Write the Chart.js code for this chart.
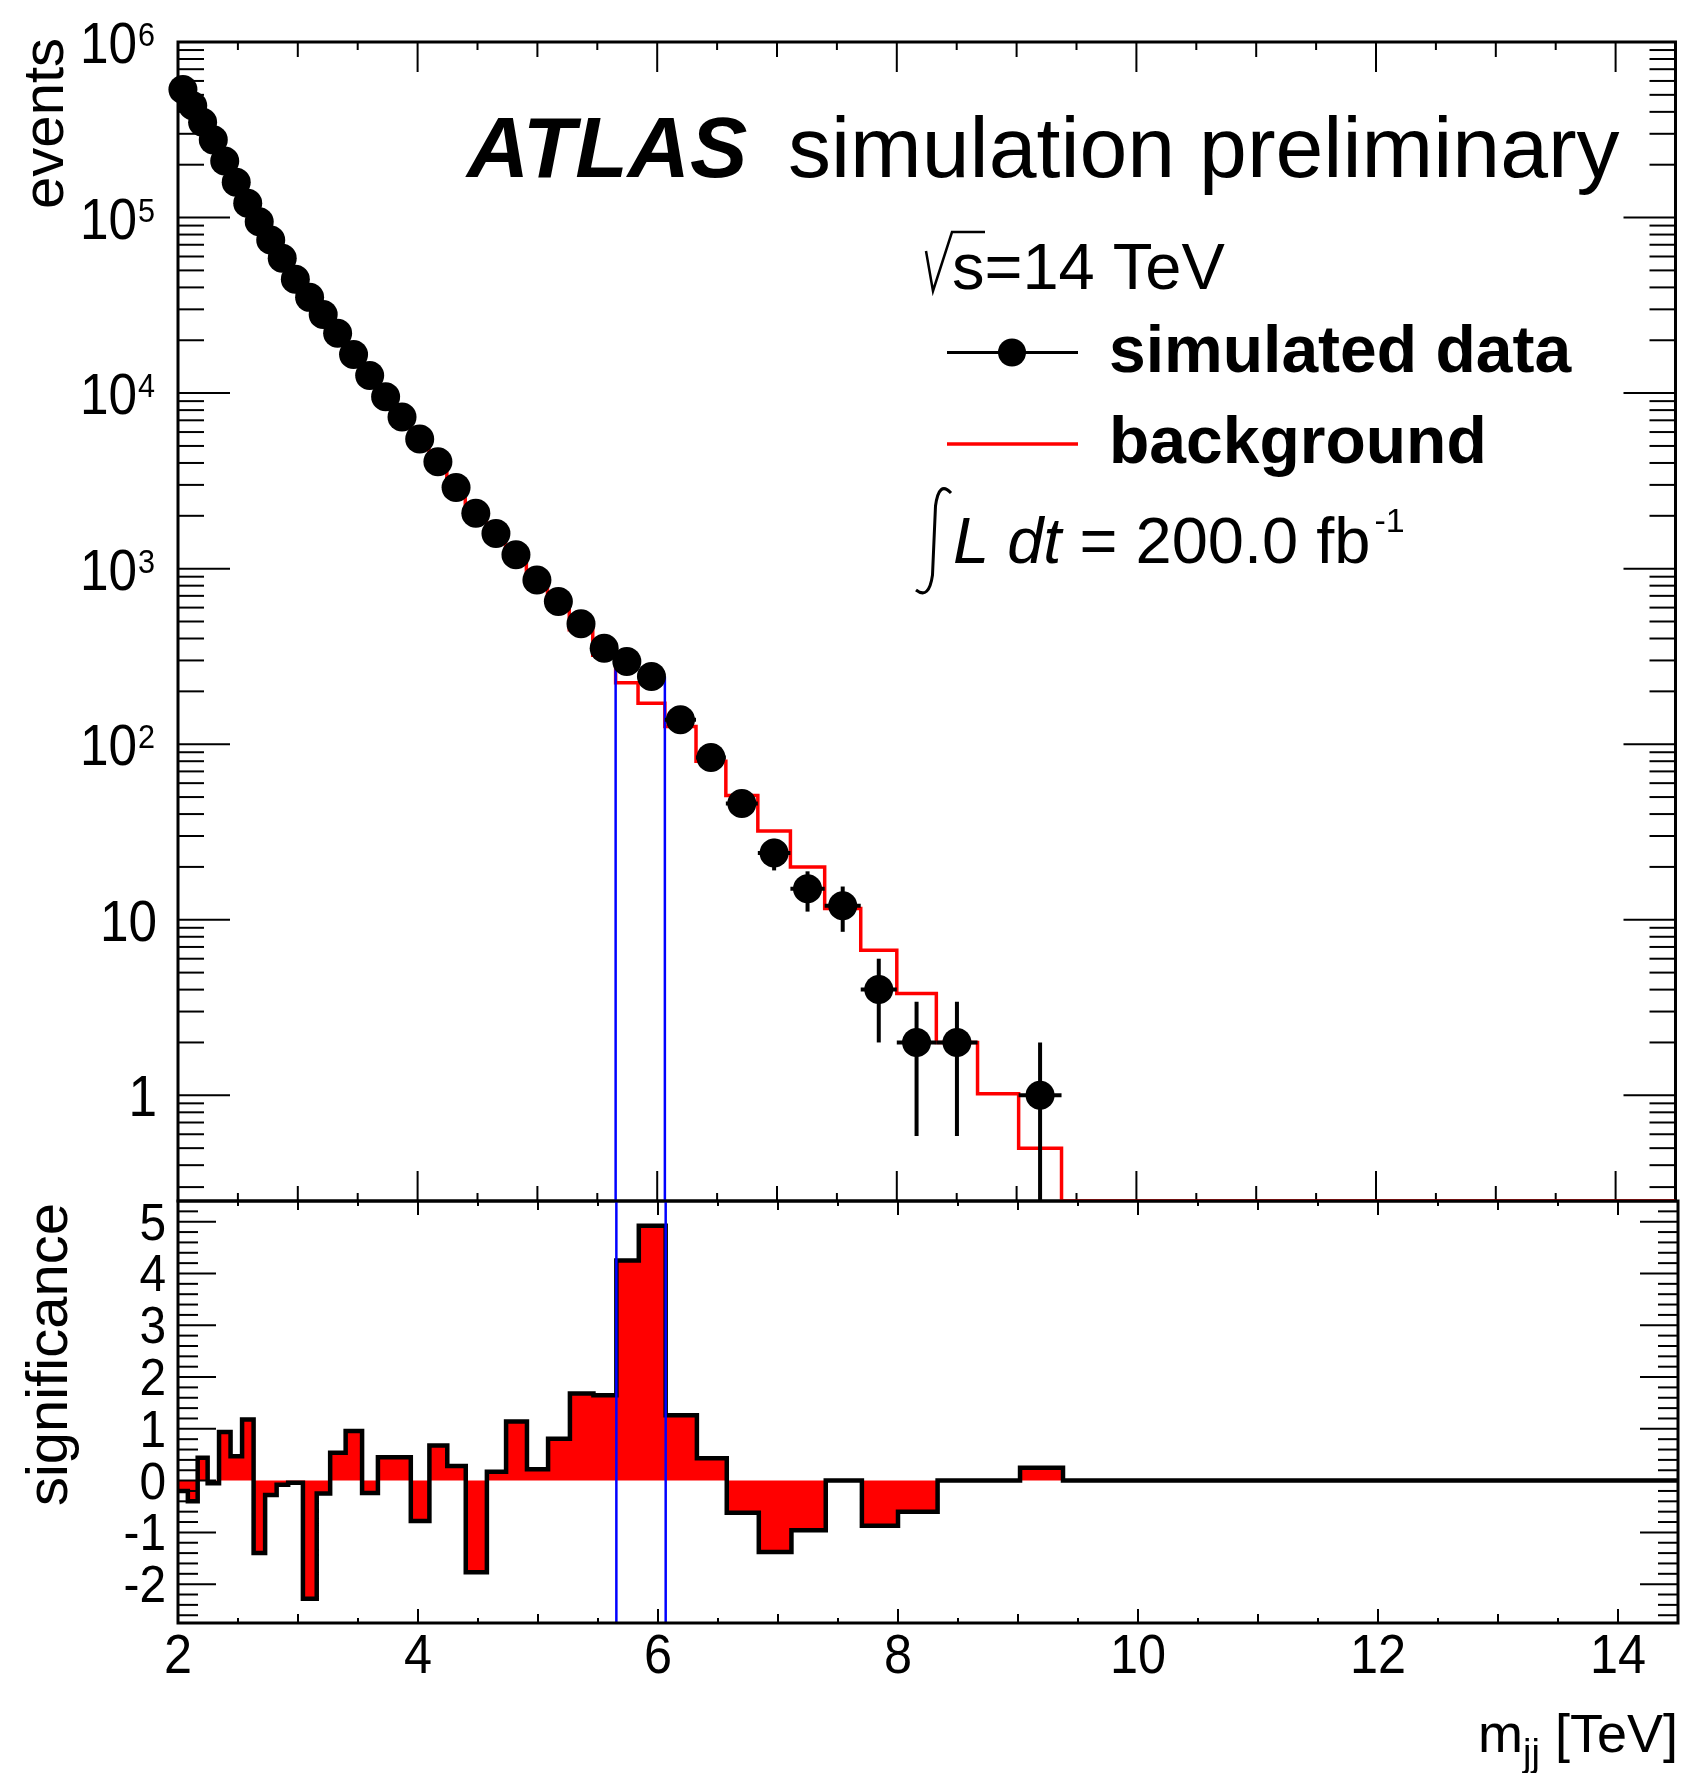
<!DOCTYPE html>
<html>
<head>
<meta charset="utf-8">
<title>mjj spectrum</title>
<script src="https://cdn.jsdelivr.net/npm/chart.js@4.4.0/dist/chart.umd.min.js"></script>
<style>
  body { margin: 0; background: #fff; }
  #wrap { position: relative; width: 1690px; height: 1773px; }
  #wrap canvas { position: absolute; left: 0; top: 0; }
</style>
</head>
<body>
<div id="wrap">
  <canvas id="upper" width="1690" height="1773"></canvas>
  <canvas id="lower" width="1690" height="1773"></canvas>
</div>
<script>
// dijet mass bins [TeV]
var binEdges = [2.0, 2.082, 2.164, 2.247, 2.342, 2.438, 2.534, 2.630, 2.726, 2.822, 2.918,
  3.041, 3.156, 3.268, 3.397, 3.534, 3.666, 3.800, 3.940, 4.095, 4.244, 4.398, 4.574,
  4.734, 4.908, 5.084, 5.266, 5.462, 5.653, 5.840, 6.064, 6.324, 6.573, 6.840, 7.112,
  7.398, 7.699, 8.000, 8.330, 8.674, 9.017, 9.375, 14.5];

// simulated data, events per bin
var dataCounts = [537000, 434000, 349000, 277000, 210000, 159000, 120500, 94600, 74500, 58600,
  44500, 35100, 28000, 21900, 16600, 12600, 9520, 7300, 5470, 4070,
  2900, 2070, 1585, 1200, 863, 650, 485, 352, 296, 243,
  138, 84, 46, 24, 15, 12, 4, 2, 2, 0, 1, 0];

// background expectation per bin
var bgCounts = [537100, 434300, 348700, 277000, 209600, 158800, 120100, 95000, 74600, 58600,
  44500, 35500, 28000, 21800, 16500, 12600, 9480, 7260, 5530, 4030,
  2890, 2150, 1580, 1160, 857, 630, 448, 321, 224, 171,
  126, 80, 51, 32, 20, 11.6, 6.7, 3.8, 2.0, 1.02, 0.5, 0];

// bin-by-bin significance
var significance = [-0.20, -0.40, 0.44, -0.05, 0.94, 0.47, 1.18, -1.40, -0.28, -0.08,
  -0.04, -2.28, -0.25, 0.54, 0.96, -0.24, 0.45, 0.45, -0.78, 0.68,
  0.28, -1.77, 0.17, 1.14, 0.22, 0.81, 1.68, 1.65, 4.25, 4.92,
  1.26, 0.43, -0.62, -1.38, -0.96, 0, -0.87, -0.60, 0, 0, 0.25, 0];

// signal window
var windowEdges = [5.653, 6.064];
var windowTop = [296, 243];

// axis ranges and tick labels
var xRange = [2, 14.5];
var eventsRange = [0.25, 1e6];
var sigRange = [-2.75, 5.4];
var xTickLabels = [2, 4, 6, 8, 10, 12, 14];
var eventTicks = [1e6, 1e5, 1e4, 1e3, 1e2, 10, 1];
var eventTickLabels = [['10', '6'], ['10', '5'], ['10', '4'], ['10', '3'], ['10', '2'], ['10', ''], ['1', '']];
var sigTicks = [5, 4, 3, 2, 1, 0, -1, -2];

var FONT = '"Liberation Sans", Arial, Helvetica, sans-serif';

function stepPoints(values, floor) {
  var pts = [];
  for (var i = 0; i < values.length; i++) {
    pts.push({ x: binEdges[i], y: floor === undefined ? values[i] : Math.max(values[i], floor) });
  }
  var last = pts[pts.length - 1].y;
  pts.push({ x: binEdges[values.length], y: last });
  return pts;
}

var dataPoints = [];
for (var i = 0; i < dataCounts.length; i++) {
  if (dataCounts[i] > 0) {
    dataPoints.push({ x: (binEdges[i] + binEdges[i + 1]) / 2, y: dataCounts[i], lo: binEdges[i], hi: binEdges[i + 1] });
  }
}

function seg(ctx, x1, y1, x2, y2) {
  ctx.beginPath();
  ctx.moveTo(x1, y1);
  ctx.lineTo(x2, y2);
  ctx.stroke();
}

function txt(ctx, s, x, y, size, opts) {
  opts = opts || {};
  ctx.save();
  ctx.font = (opts.style || '') + ' ' + size + 'px ' + FONT;
  ctx.fillStyle = '#000';
  ctx.textAlign = opts.align || 'left';
  ctx.textBaseline = 'alphabetic';
  ctx.translate(x, y);
  if (opts.rotate) ctx.rotate(opts.rotate);
  ctx.scale(opts.sx || 1, 1);
  ctx.fillText(s, 0, 0);
  var w = ctx.measureText(s).width * (opts.sx || 1);
  ctx.restore();
  return w;
}

function xTicks(ctx, xs, y, dir, lens) {
  for (var v = xRange[0]; v <= xRange[1] + 1e-9; v += 0.5) {
    var len = v % 2 === 0 ? lens[0] : (v % 1 === 0 ? lens[1] : lens[2]);
    var px = xs.getPixelForValue(v);
    seg(ctx, px, y, px, y + dir * len);
  }
}

var upperDeco = {
  id: 'upperDeco',
  beforeDatasetsDraw: function (chart) {
    var ctx = chart.ctx, a = chart.chartArea, xs = chart.scales.x, ys = chart.scales.y;
    ctx.save();
    ctx.strokeStyle = '#000';
    ctx.lineWidth = 3;
    ctx.strokeRect(a.left, a.top, a.right - a.left, a.bottom - a.top);
    ctx.lineWidth = 2;
    xTicks(ctx, xs, a.top, 1, [30, 15, 8]);
    xTicks(ctx, xs, a.bottom, -1, [30, 15, 8]);
    for (var d = -1; d <= 6; d++) {
      for (var m = 1; m <= 9; m++) {
        var val = m * Math.pow(10, d);
        if (val < eventsRange[0] || val > eventsRange[1]) continue;
        var py = ys.getPixelForValue(val);
        var len = m === 1 ? 52 : 26;
        seg(ctx, a.left, py, a.left + len, py);
        seg(ctx, a.right, py, a.right - len, py);
      }
    }
    ctx.restore();
  },
  afterDatasetsDraw: function (chart) {
    var ctx = chart.ctx, a = chart.chartArea, xs = chart.scales.x, ys = chart.scales.y;
    ctx.save();
    ctx.strokeStyle = '#000';
    ctx.lineWidth = 4;
    // statistical error bars on the data points
    dataPoints.forEach(function (p) {
      var err = Math.sqrt(p.y);
      var yc = ys.getPixelForValue(p.y);
      var yUp = ys.getPixelForValue(p.y + err);
      var yDn = p.y - err > eventsRange[0] ? ys.getPixelForValue(p.y - err) : a.bottom;
      var xc = xs.getPixelForValue(p.x);
      seg(ctx, xc, yUp, xc, yDn);
      seg(ctx, xs.getPixelForValue(p.lo), yc, xs.getPixelForValue(p.hi), yc);
    });
    ctx.restore();
  },
  afterDraw: function (chart) {
    var ctx = chart.ctx, ys = chart.scales.y;
    // y tick labels, right edge of the whole label at x = 157
    eventTicks.forEach(function (v, i) {
      var py = ys.getPixelForValue(v);
      var lab = eventTickLabels[i];
      if (lab[1]) {
        txt(ctx, lab[0], 137, py + 21, 57, { align: 'right', sx: 0.9 });
        txt(ctx, lab[1], 138, py + 4, 34, { sx: 0.9 });
      } else {
        txt(ctx, lab[0], 157, py + 21, 57, { align: 'right', sx: 0.9 });
      }
    });
    txt(ctx, 'events', 63, 38, 58, { align: 'right', rotate: -Math.PI / 2 });

    // header
    txt(ctx, 'ATLAS', 467, 177, 86, { style: 'italic bold' });
    txt(ctx, 'simulation preliminary', 788, 177, 86, {});

    // sqrt(s)
    ctx.save();
    ctx.strokeStyle = '#000';
    ctx.lineWidth = 2.5;
    ctx.beginPath();
    ctx.moveTo(926, 251);
    ctx.lineTo(933, 291);
    ctx.lineTo(952, 232);
    ctx.lineTo(985, 232);
    ctx.stroke();
    ctx.restore();
    txt(ctx, 's=14 TeV', 952, 289, 65, {});

    // legend
    ctx.save();
    ctx.strokeStyle = '#000';
    ctx.lineWidth = 3;
    seg(ctx, 947, 352.5, 1078, 352.5);
    ctx.fillStyle = '#000';
    ctx.beginPath();
    ctx.arc(1012, 352.5, 14, 0, Math.PI * 2);
    ctx.fill();
    ctx.strokeStyle = '#ff0000';
    ctx.lineWidth = 3.5;
    seg(ctx, 947, 444, 1078, 444);
    ctx.restore();
    txt(ctx, 'simulated data', 1109, 372, 66, { style: 'bold' });
    txt(ctx, 'background', 1109, 463, 66, { style: 'bold' });

    // integrated luminosity
    ctx.save();
    ctx.strokeStyle = '#000';
    ctx.lineWidth = 3;
    ctx.beginPath();
    ctx.moveTo(951, 493);
    ctx.quadraticCurveTo(939, 480, 935.5, 506);
    ctx.lineTo(932.5, 575);
    ctx.quadraticCurveTo(929, 600, 916, 590);
    ctx.stroke();
    ctx.restore();
    var x = 953;
    x += txt(ctx, 'L dt', x, 563, 65, { style: 'italic' });
    x += txt(ctx, ' = 200.0 fb', x, 563, 65, {});
    txt(ctx, '-1', x + 4, 532, 34, {});
  }
};

var lowerDeco = {
  id: 'lowerDeco',
  afterDatasetsDraw: function (chart) {
    var ctx = chart.ctx, a = chart.chartArea, xs = chart.scales.x, ys = chart.scales.y;
    ctx.save();
    ctx.strokeStyle = '#000';
    ctx.lineWidth = 3;
    ctx.strokeRect(a.left, a.top, a.right - a.left, a.bottom - a.top);
    ctx.lineWidth = 2;
    xTicks(ctx, xs, a.bottom, -1, [14, 9, 5]);
    xTicks(ctx, xs, a.top, 1, [14, 9, 5]);
    for (var k = -14; k <= 27; k++) {
      var v = k / 5;
      if (v < sigRange[0] || v > sigRange[1]) continue;
      var py = ys.getPixelForValue(v);
      var len = k % 5 === 0 ? 38 : 20;
      seg(ctx, a.left, py, a.left + len, py);
      seg(ctx, a.right, py, a.right - len, py);
    }
    ctx.restore();

    sigTicks.forEach(function (v) {
      txt(ctx, String(v), 166, ys.getPixelForValue(v) + 18, 52, { align: 'right', sx: 0.92 });
    });
    xTickLabels.forEach(function (v) {
      txt(ctx, String(v), xs.getPixelForValue(v), 1673, 56, { align: 'center', sx: 0.9 });
    });
    txt(ctx, 'significance', 67, 1203, 58, { align: 'right', rotate: -Math.PI / 2 });

    // axis title m_jj [TeV], right-aligned to the frame
    ctx.save();
    ctx.font = '54px ' + FONT;
    var wM = ctx.measureText('m').width;
    var wT = ctx.measureText(' [TeV]').width;
    ctx.font = '38px ' + FONT;
    var wJ = ctx.measureText('jj').width;
    ctx.restore();
    var x0 = a.right - wM - wJ - wT;
    txt(ctx, 'm', x0, 1752, 54, {});
    txt(ctx, 'jj', x0 + wM, 1766, 38, {});
    txt(ctx, ' [TeV]', x0 + wM + wJ, 1752, 54, {});
  }
};

function fixedAxes(yType, yMin, yMax) {
  return {
    x: {
      type: 'linear', min: xRange[0], max: xRange[1],
      ticks: { display: false }, grid: { display: false }, border: { display: false },
      afterFit: function (s) { s.height = 0; }
    },
    y: {
      type: yType, min: yMin, max: yMax,
      ticks: { display: false }, grid: { display: false }, border: { display: false },
      afterFit: function (s) { s.width = 178; }
    }
  };
}

var baseOpts = {
  responsive: false,
  animation: false,
  events: [],
  plugins: { legend: { display: false }, tooltip: { enabled: false } }
};

new Chart(document.getElementById('upper'), {
  type: 'scatter',
  data: {
    datasets: [
      {
        type: 'line', label: 'background',
        data: stepPoints(bgCounts, eventsRange[0]),
        stepped: true, borderColor: '#ff0000', borderWidth: 3.5,
        pointRadius: 0, fill: false, order: 3
      },
      {
        type: 'line', label: 'window low',
        data: [{ x: windowEdges[0], y: eventsRange[0] }, { x: windowEdges[0], y: windowTop[0] }],
        borderColor: '#0000ff', borderWidth: 2.5, pointRadius: 0, fill: false, order: 2
      },
      {
        type: 'line', label: 'window high',
        data: [{ x: windowEdges[1], y: eventsRange[0] }, { x: windowEdges[1], y: windowTop[1] }],
        borderColor: '#0000ff', borderWidth: 2.5, pointRadius: 0, fill: false, order: 2
      },
      {
        label: 'simulated data',
        data: dataPoints,
        pointRadius: 14.5, backgroundColor: '#000', borderColor: '#000', borderWidth: 0,
        clip: false, order: 1
      }
    ]
  },
  options: Object.assign({}, baseOpts, {
    layout: { padding: { left: 0, right: 12, top: 42, bottom: 572 } },
    scales: fixedAxes('logarithmic', eventsRange[0], eventsRange[1])
  }),
  plugins: [upperDeco]
});

new Chart(document.getElementById('lower'), {
  type: 'scatter',
  data: {
    datasets: [
      {
        type: 'line', label: 'significance',
        data: stepPoints(significance),
        stepped: true, borderColor: '#000', borderWidth: 4.5,
        backgroundColor: '#ff0000', fill: 'origin',
        pointRadius: 0, order: 3
      },
      {
        type: 'line', label: 'window low',
        data: [{ x: windowEdges[0], y: sigRange[0] }, { x: windowEdges[0], y: sigRange[1] }],
        borderColor: '#0000ff', borderWidth: 2.5, pointRadius: 0, fill: false, order: 2
      },
      {
        type: 'line', label: 'window high',
        data: [{ x: windowEdges[1], y: sigRange[0] }, { x: windowEdges[1], y: sigRange[1] }],
        borderColor: '#0000ff', borderWidth: 2.5, pointRadius: 0, fill: false, order: 2
      }
    ]
  },
  options: Object.assign({}, baseOpts, {
    layout: { padding: { left: 0, right: 12, top: 1201, bottom: 150 } },
    scales: fixedAxes('linear', sigRange[0], sigRange[1])
  }),
  plugins: [lowerDeco]
});
</script>
</body>
</html>
